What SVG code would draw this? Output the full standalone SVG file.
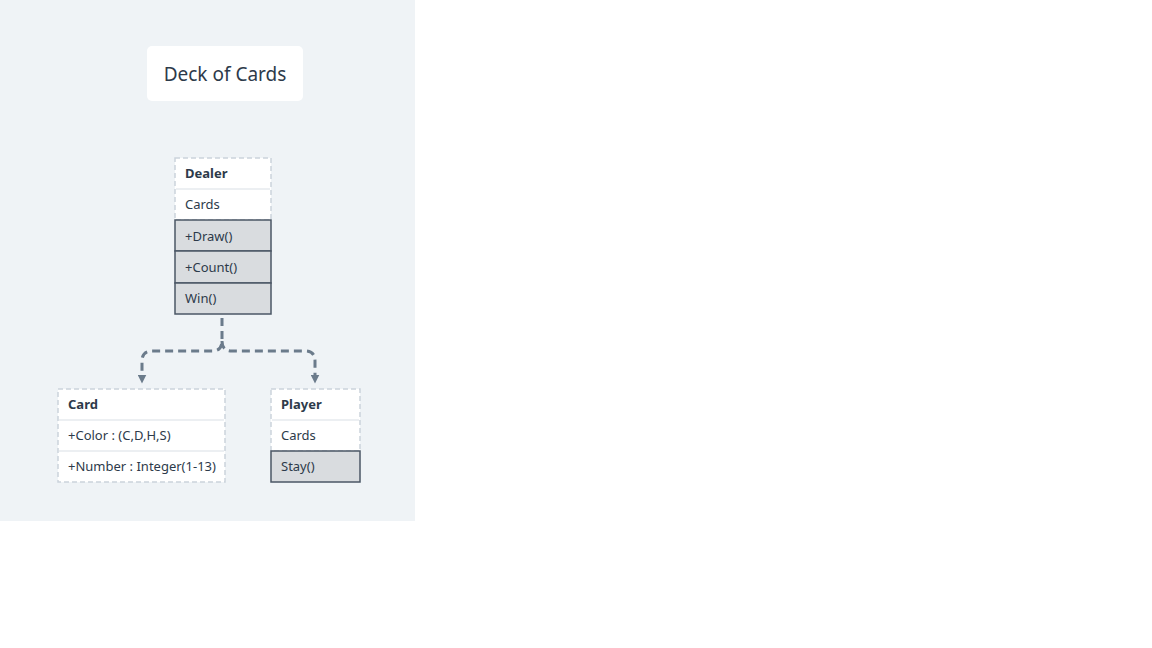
<svg xmlns="http://www.w3.org/2000/svg" width="1152" height="648" viewBox="0 0 1152 648">
<style>
text{font-family:"Noto Sans","Liberation Sans",sans-serif;fill:#2d3a4a;font-size:13px;dominant-baseline:central}
.h{font-weight:bold}
.w{fill:#ffffff;stroke:#cbd3db;stroke-width:1.5;stroke-dasharray:5 3}
.g{fill:#d9dcdf;stroke:#4b5766;stroke-width:1.5}
.sep{stroke:#e6eaee;stroke-width:1.5}
.c{fill:none;stroke:#6b7b8b;stroke-width:3;stroke-dasharray:8 5}
</style>
<defs>
<marker id="a" viewBox="0 0 10 10" refX="5" refY="5" markerWidth="3" markerHeight="3" orient="auto"><path d="M0,0 L10,5 L0,10 z" fill="#6b7b8b"/></marker>
</defs>
<rect width="1152" height="648" fill="#ffffff"/>
<rect x="0" y="0" width="415" height="521" fill="#eff3f6"/>
<g id="title">
<rect x="147" y="46" width="156" height="55" rx="5" fill="#ffffff"/>
<text x="225" y="74" text-anchor="middle" style="font-size:19px">Deck of Cards</text>
</g>
<g id="connectors">
<path class="c" d="M222,318 L222,341 Q222,351 212,351 L152,351 Q142,351 142,361 L142,379" marker-end="url(#a)"/>
<path class="c" d="M222,341 Q222,351 232,351 L305,351 Q315,351 315,361 L315,379" marker-end="url(#a)"/>
</g>
<g id="dealer">
<rect class="w" x="175" y="158" width="96" height="62"/>
<line class="sep" x1="176" y1="189" x2="270" y2="189"/>
<rect class="g" x="175" y="220" width="96" height="31"/>
<rect class="g" x="175" y="251" width="96" height="32"/>
<rect class="g" x="175" y="283" width="96" height="31"/>
<text class="h" x="185" y="173">Dealer</text>
<text x="185" y="204">Cards</text>
<text x="185" y="236">+Draw()</text>
<text x="185" y="267">+Count()</text>
<text x="185" y="298">Win()</text>
</g>
<g id="card">
<rect class="w" x="58" y="389" width="167" height="93"/>
<line class="sep" x1="59" y1="420" x2="224" y2="420"/>
<line class="sep" x1="59" y1="451" x2="224" y2="451"/>
<text class="h" x="68" y="404">Card</text>
<text x="68" y="435">+Color : (C,D,H,S)</text>
<text x="68" y="466">+Number : Integer(1-13)</text>
</g>
<g id="player">
<rect class="w" x="271" y="389" width="89" height="62"/>
<line class="sep" x1="272" y1="420" x2="359" y2="420"/>
<rect class="g" x="271" y="451" width="89" height="31"/>
<text class="h" x="281" y="404">Player</text>
<text x="281" y="435">Cards</text>
<text x="281" y="466">Stay()</text>
</g>
</svg>
